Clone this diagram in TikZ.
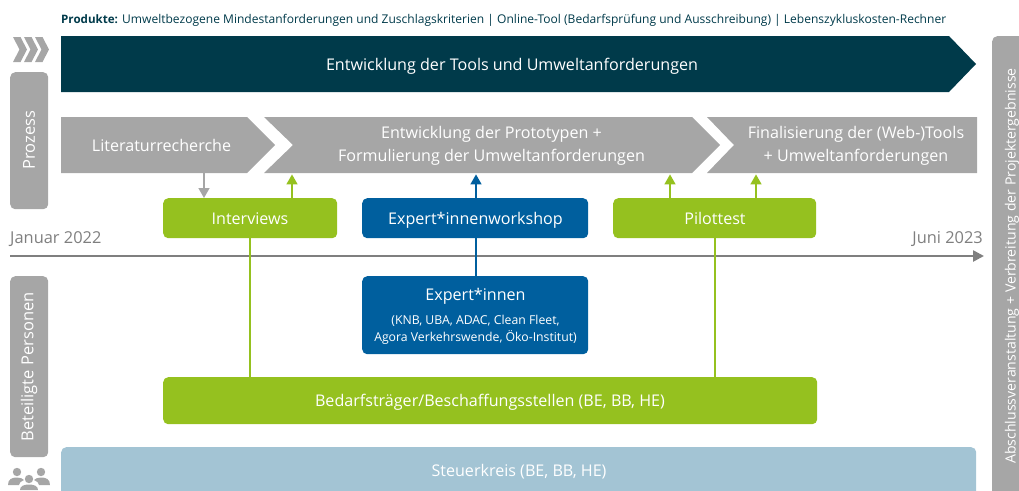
\documentclass[tikz,border=0pt]{standalone}
\usepackage{fontspec}
\setmainfont{Open Sans}
\usetikzlibrary{arrows.meta}
\definecolor{cdark}{HTML}{003A4A}
\definecolor{cgray}{HTML}{A6A6A6}
\definecolor{cline}{HTML}{7F7F7F}
\definecolor{cgreen}{HTML}{95C11F}
\definecolor{cblue}{HTML}{005F9E}
\definecolor{clight}{HTML}{A3C4D4}
\tikzset{
  x=1pt,y=-1pt,
  box/.style={rounded corners=5pt,text=white,inner sep=0pt,align=center,anchor=north west},
  ghost/.style={inner sep=0pt,text=white,align=center,font=\fontsize{16.1}{22.8}\selectfont},
  label/.style={ghost,anchor=base},
  link/.style={line width=1.5pt},
  up/.style={link,-{Triangle[width=11pt,length=10pt]}},
  sidetext/.style={rotate=90,text=white,font=\fontsize{16.5}{20}\selectfont,inner sep=0pt},
  timetext/.style={text=cline,font=\fontsize{16.4}{20}\selectfont,inner sep=0pt},
}
\begin{document}
\begin{tikzpicture}
\useasboundingbox (0,0) rectangle (1019,490);
\clip (0,0) rectangle (1019,490);
% header
\node[anchor=west,inner sep=0pt,text=cdark,font=\fontsize{12.04}{14}\selectfont] (head) at (61,20) {{\fontsize{11.6}{14}\selectfont\textbf{Produkte:}} Umweltbezogene Mindestanforderungen und Zuschlagskriterien | Online-Tool (Bedarfsprüfung und Ausschreibung) | Lebenszykluskosten-Rechner};
% chevrons
\foreach \o in {0,11,22}{
  \fill[cgray] (13+\o,37) -- (20.5+\o,37) -- (27+\o,49.5) -- (20.5+\o,62) -- (13+\o,62) -- (19.5+\o,49.5) -- cycle;
}
% side bars
\node[box,fill=cgray,minimum width=38pt,minimum height=137pt] (sideproc) at (10,72) {};
\node[sidetext] (proz) at (29,140) {Prozess};
\node[box,fill=cgray,minimum width=38pt,minimum height=181pt] (sidepers) at (10,276) {};
\node[sidetext] (bet) at (29,367) {Beteiligte Personen};
\node[box,fill=cgray,minimum width=40pt,minimum height=470pt] (sideright) at (992,36) {};
\node[sidetext,font=\fontsize{14.1}{17}\selectfont] (abs) at (1012,266) {Abschlussveranstaltung + Verbreitung der Projektergebnisse};
% process arrows
\fill[cdark] (61,36) -- (949,36) -- (976,64) -- (949,92) -- (61,92) -- cycle;
\node[ghost,minimum width=915pt,minimum height=56pt,anchor=north west] (dev) at (61,36) {};
\node[label] (devt) at (512,70) {Entwicklung der Tools und Umweltanforderungen};
\fill[cgray] (61,117) -- (247,117) -- (275,145) -- (247,173) -- (61,173) -- cycle;
\node[ghost,minimum width=214pt,minimum height=56pt,anchor=north west] (lit) at (61,117) {};
\node[label] (litt) at (161.5,151) {Literaturrecherche};
\fill[cgray] (264,117) -- (692,117) -- (720,145) -- (692,173) -- (264,173) -- (293,145) -- cycle;
\node[ghost,minimum width=456pt,minimum height=56pt,anchor=north west] (mid) at (264,117) {};
\node[ghost] (midt) at (491.5,145.5) {Entwicklung der Prototypen +\\Formulierung der Umweltanforderungen};
\fill[cgray] (707,117) -- (977,117) -- (977,173) -- (707,173) -- (734,145) -- cycle;
\node[ghost,minimum width=270pt,minimum height=56pt,anchor=north west] (fin) at (707,117) {};
\node[ghost] (fint) at (856,145.5) {Finalisierung der (Web-)Tools\\+ Umweltanforderungen};
% timeline
\coordinate (tl) at (10,256);
\coordinate (tr) at (984,256);
\draw[cline,line width=2.5pt,-{Triangle[width=11pt,length=11pt]}] (tl) -- (tr);
\node[timetext,anchor=west] (jan) at (10,239) {Januar 2022};
\node[timetext,anchor=east] (jun) at (983,239) {Juni 2023};
% boxes
\node[box,fill=cgreen,minimum width=174pt,minimum height=40pt] (int) at (163,198) {};
\node[label] at (250,224.5) {Interviews};
\node[box,fill=cblue,minimum width=226pt,minimum height=40pt] (ws) at (362,198) {};
\node[label] at (475.5,224.5) {Expert*innenworkshop};
\node[box,fill=cgreen,minimum width=203pt,minimum height=40pt] (pil) at (613,198) {};
\node[label] at (715,224.5) {Pilottest};
\node[box,fill=cblue,minimum width=226pt,minimum height=78pt] (exp) at (362,276) {};
\node[label] at (475.5,300.5) {Expert*innen};
\node[ghost,font=\fontsize{12.25}{16.5}\selectfont] at (475.5,330) {(KNB, UBA, ADAC, Clean Fleet,\\Agora Verkehrswende, Öko-Institut)};
\node[box,fill=cgreen,minimum width=654pt,minimum height=47pt] (bed) at (163,377) {};
\node[label] at (490,406.5) {Bedarfsträger/Beschaffungsstellen (BE, BB, HE)};
\node[box,fill=clight,minimum width=915pt,minimum height=60pt] (st) at (61,447) {};
\node[label] at (519,476.5) {Steuerkreis (BE, BB, HE)};
% connectors
\coordinate (xa) at (204,0);
\coordinate (xb) at (292,0);
\coordinate (xc) at (476,0);
\coordinate (xd) at (670,0);
\coordinate (xe) at (756,0);
\coordinate (xf) at (250,0);
\coordinate (xg) at (715,0);
\draw[up,cgray] (lit.south -| xa) -- (int.north -| xa);
\draw[up,cgreen] (int.north -| xb) -- ([yshift=-1pt]mid.south -| xb);
\draw[up,cblue] (ws.north -| xc) -- ([yshift=-1pt]mid.south -| xc);
\draw[up,cgreen] (pil.north -| xd) -- ([yshift=-1pt]mid.south -| xd);
\draw[up,cgreen] (pil.north -| xe) -- ([yshift=-1pt]fin.south -| xe);
\draw[link,cgreen] (int.south -| xf) -- (bed.north -| xf);
\draw[link,cgreen] (pil.south -| xg) -- (bed.north -| xg);
\draw[link,cblue] (ws.south -| xc) -- (exp.north -| xc);
% people icon
\fill[cgray] (17,472) circle (4.2);
\fill[cgray] (41,472) circle (4.2);
\fill[cgray] (8,485) .. controls (8,479) and (12,477.5) .. (17,477.5) .. controls (20,477.5) and (23,478.5) .. (24,480) .. controls (21,481) and (19,483) .. (19,485) -- cycle;
\fill[cgray] (50,485) .. controls (50,479) and (46,477.5) .. (41,477.5) .. controls (38,477.5) and (35,478.5) .. (34,480) .. controls (37,481) and (39,483) .. (39,485) -- cycle;
\fill[cgray] (29,479) circle (4.2);
\fill[cgray] (20,490) .. controls (20,486) and (24,484.5) .. (29,484.5) .. controls (34,484.5) and (38,486) .. (38,490) -- cycle;
\end{tikzpicture}
\end{document}
